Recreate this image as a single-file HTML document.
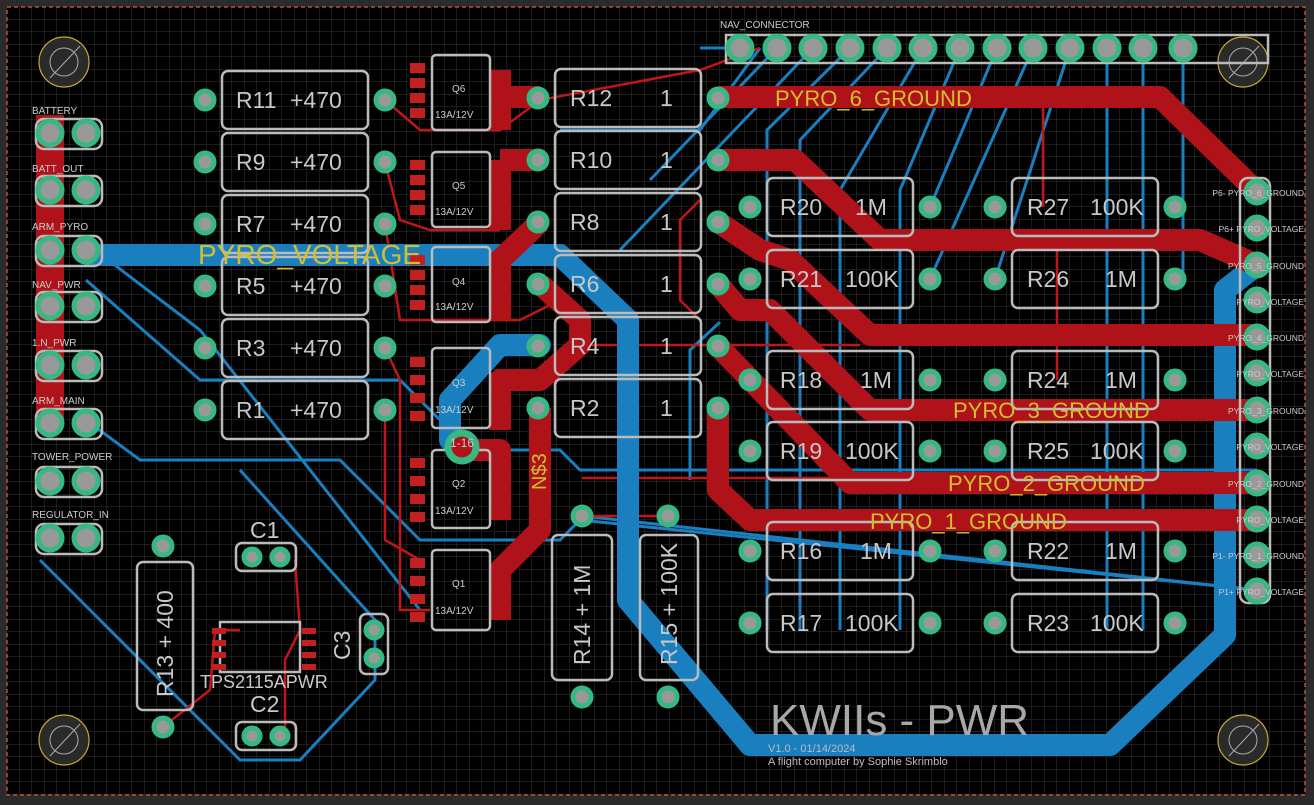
<!DOCTYPE html>
<html><head><meta charset="utf-8"><style>
html,body{margin:0;padding:0;background:#2b2b2b}
svg{display:block}
text{font-family:"Liberation Sans",sans-serif}
</style></head><body>
<svg width="1314" height="805" viewBox="0 0 1314 805" xmlns="http://www.w3.org/2000/svg">
<defs>
<pattern id="g" width="12.5" height="12.5" patternUnits="userSpaceOnUse" x="7" y="7">
<path d="M12.5 0V12.5H0" fill="none" stroke="#363636" stroke-width="1"/>
</pattern>
</defs>
<rect width="1314" height="805" fill="#2b2b2b"/>
<rect x="7" y="7" width="1298" height="788" fill="#000"/>
<rect x="7" y="7" width="1298" height="788" fill="url(#g)"/>
<rect x="7" y="7" width="1298" height="788" fill="none" stroke="#c0502a" stroke-width="1.5" stroke-dasharray="4 3"/>

<g fill="#2a2a2a" stroke="#c8a830" stroke-width="1.2">
<circle cx="64" cy="62" r="25"/><circle cx="1243" cy="62" r="25"/>
<circle cx="64" cy="740" r="25"/><circle cx="1243" cy="740" r="25"/>
</g>
<g fill="none" stroke="#aaa" stroke-width="1">
<circle cx="64" cy="62" r="14"/><path d="M50 78L80 46"/>
<circle cx="1243" cy="62" r="14"/><path d="M1229 78L1259 46"/>
<circle cx="64" cy="740" r="14"/><path d="M50 756L80 724"/>
<circle cx="1243" cy="740" r="14"/><path d="M1229 756L1259 724"/>
</g>

<g fill="none" stroke="#1a7fbf" stroke-width="3">
<path d="M740 48L700 48M760 48L700 130L560 130"/>
<path d="M777 48L650 180"/><path d="M813 48L620 250"/>
<path d="M850 48L767 130L767 630"/><path d="M887 48L800 140L800 630"/>
<path d="M923 48L840 190L840 630"/><path d="M960 48L900 190L900 630"/>
<path d="M997 48L930 207"/><path d="M1033 48L930 279"/>
<path d="M1070 48L995 279"/><path d="M1107 48L1107 630"/><path d="M1143 48L1143 630"/><path d="M1183 48L1183 279"/>
<path d="M86 280L200 380L400 380L470 450L560 450L580 470L1257 470"/>
<path d="M86 420L140 460L340 460L420 540L560 540L580 520L1257 590"/>
<path d="M40 560L100 620L240 760L300 760L375 680L375 620L240 470"/>
<path d="M95 250L200 330L420 610"/>
<path d="M582 516L1257 590"/>
<path d="M720 322L690 350L690 480"/>
</g>
<g fill="none" stroke="#c0161a" stroke-width="2.5">
<path d="M385 100L420 130L500 130L540 100L700 70L760 48"/>
<path d="M385 162L400 220L430 230L500 230"/>
<path d="M385 224L400 320L520 320L560 300"/>
<path d="M385 348L400 380L400 610L430 610"/>
<path d="M385 410L385 540L420 560"/>
<path d="M582 345L860 345"/><path d="M582 478L860 478"/><path d="M582 516L668 516"/>
<path d="M1043 90L1043 207"/><path d="M1057 240L1057 380"/>
<path d="M163 727L210 690L215 630L240 630"/>
<path d="M295 560L300 630L285 660L285 735"/>
<path d="M700 200L680 220L680 300L700 320"/>
</g>

<g fill="none" stroke="#1a7fbf" stroke-width="22" stroke-linejoin="round" stroke-linecap="round">
<path d="M90 255L560 255L628 320L628 600L750 745L1110 745L1225 635L1225 290L1257 265"/>
<path d="M450 440L450 400L500 345L540 345"/>
</g>
<g fill="none" stroke="#b0121a" stroke-width="22" stroke-linejoin="round">
<path d="M50 115L50 420" stroke-width="28"/>
<path d="M718 97L1160 97L1257 192"/>
<path d="M718 160L795 160L880 240L1200 240L1257 265"/>
<path d="M718 222L760 250L790 260L870 335L1257 335"/>
<path d="M718 284L740 310L770 310L870 410L1257 410"/>
<path d="M718 346L850 483L1257 483"/>
<path d="M718 408L718 490L750 520L1257 520"/>
<path d="M500 70L500 130M540 97L500 97"/>
<path d="M500 160L540 160M500 160L500 230"/>
<path d="M540 222L500 260L500 320"/>
<path d="M540 284L580 320L580 345L540 380L500 380L500 430"/>
<path d="M540 408L540 530L500 570L500 620"/>
<path d="M462 450L500 450L500 520"/>
</g>

<g fill="none" stroke="#bbb" stroke-width="2.5">
<rect x="222" y="71" width="146" height="58" rx="6"/><rect x="222" y="133" width="146" height="58" rx="6"/>
<rect x="222" y="195" width="146" height="58" rx="6"/><rect x="222" y="257" width="146" height="58" rx="6"/>
<rect x="222" y="319" width="146" height="58" rx="6"/><rect x="222" y="381" width="146" height="58" rx="6"/>
<rect x="555" y="69" width="146" height="58" rx="6"/><rect x="555" y="131" width="146" height="58" rx="6"/>
<rect x="555" y="193" width="146" height="58" rx="6"/><rect x="555" y="255" width="146" height="58" rx="6"/>
<rect x="555" y="317" width="146" height="58" rx="6"/><rect x="555" y="379" width="146" height="58" rx="6"/>
<rect x="767" y="178" width="146" height="58" rx="6"/><rect x="1012" y="178" width="146" height="58" rx="6"/>
<rect x="767" y="250" width="146" height="58" rx="6"/><rect x="1012" y="250" width="146" height="58" rx="6"/>
<rect x="767" y="351" width="146" height="58" rx="6"/><rect x="1012" y="351" width="146" height="58" rx="6"/>
<rect x="767" y="422" width="146" height="58" rx="6"/><rect x="1012" y="422" width="146" height="58" rx="6"/>
<rect x="767" y="522" width="146" height="58" rx="6"/><rect x="1012" y="522" width="146" height="58" rx="6"/>
<rect x="767" y="594" width="146" height="58" rx="6"/><rect x="1012" y="594" width="146" height="58" rx="6"/>
<rect x="552" y="535" width="60" height="145" rx="6"/><rect x="640" y="535" width="58" height="145" rx="6"/>
<rect x="137" y="562" width="56" height="148" rx="6"/>
<rect x="432" y="55" width="58" height="75" rx="4"/><rect x="432" y="152" width="58" height="75" rx="4"/>
<rect x="432" y="247" width="58" height="75" rx="4"/><rect x="432" y="348" width="58" height="80" rx="4"/>
<rect x="432" y="450" width="58" height="78" rx="4"/><rect x="432" y="550" width="58" height="80" rx="4"/>
<rect x="236" y="543" width="60" height="28" rx="6"/><rect x="236" y="722" width="60" height="28" rx="6"/>
<rect x="360" y="614" width="28" height="60" rx="6"/>
<rect x="220" y="622" width="80" height="50"/>
<path d="M726 35L1268 35L1268 63L726 63Z"/>
<rect x="1240" y="178" width="30" height="425" rx="8"/>
<rect x="36" y="119" width="66" height="30" rx="8"/><rect x="36" y="176" width="66" height="30" rx="8"/>
<rect x="36" y="236" width="66" height="30" rx="8"/><rect x="36" y="292" width="66" height="30" rx="8"/>
<rect x="36" y="351" width="66" height="30" rx="8"/><rect x="36" y="409" width="66" height="30" rx="8"/>
<rect x="36" y="467" width="66" height="30" rx="8"/><rect x="36" y="524" width="66" height="30" rx="8"/>
</g>

<g fill="#c02020">
<rect x="410" y="63" width="15" height="10"/><rect x="410" y="78" width="15" height="10"/><rect x="410" y="93" width="15" height="10"/><rect x="410" y="108" width="15" height="10"/>
<rect x="410" y="160" width="15" height="10"/><rect x="410" y="175" width="15" height="10"/><rect x="410" y="190" width="15" height="10"/><rect x="410" y="205" width="15" height="10"/>
<rect x="410" y="255" width="15" height="10"/><rect x="410" y="270" width="15" height="10"/><rect x="410" y="285" width="15" height="10"/><rect x="410" y="300" width="15" height="10"/>
<rect x="410" y="357" width="15" height="10"/><rect x="410" y="375" width="15" height="10"/><rect x="410" y="393" width="15" height="10"/><rect x="410" y="411" width="15" height="10"/>
<rect x="410" y="458" width="15" height="10"/><rect x="410" y="476" width="15" height="10"/><rect x="410" y="494" width="15" height="10"/><rect x="410" y="512" width="15" height="10"/>
<rect x="410" y="558" width="15" height="10"/><rect x="410" y="576" width="15" height="10"/><rect x="410" y="594" width="15" height="10"/><rect x="410" y="612" width="15" height="10"/>
<rect x="212" y="628" width="14" height="6"/><rect x="212" y="640" width="14" height="6"/><rect x="212" y="652" width="14" height="6"/><rect x="212" y="664" width="14" height="6"/>
<rect x="302" y="628" width="14" height="6"/><rect x="302" y="640" width="14" height="6"/><rect x="302" y="652" width="14" height="6"/><rect x="302" y="664" width="14" height="6"/>
</g>

<g fill="#999" stroke="#35b881" stroke-width="5">
<circle cx="205" cy="100" r="9"/><circle cx="385" cy="100" r="9"/><circle cx="205" cy="162" r="9"/><circle cx="385" cy="162" r="9"/>
<circle cx="205" cy="224" r="9"/><circle cx="385" cy="224" r="9"/><circle cx="205" cy="286" r="9"/><circle cx="385" cy="286" r="9"/>
<circle cx="205" cy="348" r="9"/><circle cx="385" cy="348" r="9"/><circle cx="205" cy="410" r="9"/><circle cx="385" cy="410" r="9"/>
<circle cx="538" cy="98" r="9"/><circle cx="718" cy="98" r="9"/><circle cx="538" cy="160" r="9"/><circle cx="718" cy="160" r="9"/>
<circle cx="538" cy="222" r="9"/><circle cx="718" cy="222" r="9"/><circle cx="538" cy="284" r="9"/><circle cx="718" cy="284" r="9"/>
<circle cx="538" cy="346" r="9"/><circle cx="718" cy="346" r="9"/><circle cx="538" cy="408" r="9"/><circle cx="718" cy="408" r="9"/>
<circle cx="750" cy="207" r="9"/><circle cx="930" cy="207" r="9"/><circle cx="995" cy="207" r="9"/><circle cx="1175" cy="207" r="9"/>
<circle cx="750" cy="279" r="9"/><circle cx="930" cy="279" r="9"/><circle cx="995" cy="279" r="9"/><circle cx="1175" cy="279" r="9"/>
<circle cx="750" cy="380" r="9"/><circle cx="930" cy="380" r="9"/><circle cx="995" cy="380" r="9"/><circle cx="1175" cy="380" r="9"/>
<circle cx="750" cy="451" r="9"/><circle cx="930" cy="451" r="9"/><circle cx="995" cy="451" r="9"/><circle cx="1175" cy="451" r="9"/>
<circle cx="750" cy="551" r="9"/><circle cx="930" cy="551" r="9"/><circle cx="995" cy="551" r="9"/><circle cx="1175" cy="551" r="9"/>
<circle cx="750" cy="623" r="9"/><circle cx="930" cy="623" r="9"/><circle cx="995" cy="623" r="9"/><circle cx="1175" cy="623" r="9"/>
<circle cx="582" cy="516" r="9"/><circle cx="582" cy="697" r="9"/><circle cx="668" cy="516" r="9"/><circle cx="668" cy="697" r="9"/>
<circle cx="163" cy="546" r="9"/><circle cx="163" cy="727" r="9"/>
<circle cx="252" cy="557" r="8"/><circle cx="280" cy="557" r="8"/><circle cx="252" cy="736" r="8"/><circle cx="280" cy="736" r="8"/>
<circle cx="374" cy="630" r="8"/><circle cx="374" cy="658" r="8"/>
<circle cx="740" cy="48" r="12"/><circle cx="777" cy="48" r="12"/><circle cx="813" cy="48" r="12"/><circle cx="850" cy="48" r="12"/><circle cx="887" cy="48" r="12"/><circle cx="923" cy="48" r="12"/><circle cx="960" cy="48" r="12"/><circle cx="997" cy="48" r="12"/><circle cx="1033" cy="48" r="12"/><circle cx="1070" cy="48" r="12"/><circle cx="1107" cy="48" r="12"/><circle cx="1143" cy="48" r="12"/><circle cx="1183" cy="48" r="12"/>
<circle cx="1257" cy="192" r="11"/><circle cx="1257" cy="228" r="11"/><circle cx="1257" cy="265" r="11"/><circle cx="1257" cy="300" r="11"/><circle cx="1257" cy="337" r="11"/><circle cx="1257" cy="373" r="11"/><circle cx="1257" cy="410" r="11"/><circle cx="1257" cy="446" r="11"/><circle cx="1257" cy="483" r="11"/><circle cx="1257" cy="519" r="11"/><circle cx="1257" cy="555" r="11"/><circle cx="1257" cy="591" r="11"/>
<circle cx="50" cy="133" r="12"/><circle cx="86" cy="133" r="12"/><circle cx="50" cy="190" r="12"/><circle cx="86" cy="190" r="12"/>
<circle cx="50" cy="250" r="12"/><circle cx="86" cy="250" r="12"/><circle cx="50" cy="306" r="12"/><circle cx="86" cy="306" r="12"/>
<circle cx="50" cy="365" r="12"/><circle cx="86" cy="365" r="12"/><circle cx="50" cy="423" r="12"/><circle cx="86" cy="423" r="12"/>
<circle cx="50" cy="481" r="12"/><circle cx="86" cy="481" r="12"/><circle cx="50" cy="538" r="12"/><circle cx="86" cy="538" r="12"/>
<circle cx="462" cy="447" r="14" fill="#b0121a" stroke-width="7"/>
</g>

<g fill="#c8c8c8" font-size="23">
<text x="236" y="108">R11</text><text x="290" y="108">+470</text>
<text x="236" y="170">R9</text><text x="290" y="170">+470</text>
<text x="236" y="232">R7</text><text x="290" y="232">+470</text>
<text x="236" y="294">R5</text><text x="290" y="294">+470</text>
<text x="236" y="356">R3</text><text x="290" y="356">+470</text>
<text x="236" y="418">R1</text><text x="290" y="418">+470</text>
<text x="570" y="106">R12</text><text x="660" y="106">1</text>
<text x="570" y="168">R10</text><text x="660" y="168">1</text>
<text x="570" y="230">R8</text><text x="660" y="230">1</text>
<text x="570" y="292">R6</text><text x="660" y="292">1</text>
<text x="570" y="354">R4</text><text x="660" y="354">1</text>
<text x="570" y="416">R2</text><text x="660" y="416">1</text>
<text x="780" y="215">R20</text><text x="855" y="215">1M</text><text x="1027" y="215">R27</text><text x="1090" y="215">100K</text>
<text x="780" y="287">R21</text><text x="845" y="287">100K</text><text x="1027" y="287">R26</text><text x="1105" y="287">1M</text>
<text x="780" y="388">R18</text><text x="860" y="388">1M</text><text x="1027" y="388">R24</text><text x="1105" y="388">1M</text>
<text x="780" y="459">R19</text><text x="845" y="459">100K</text><text x="1027" y="459">R25</text><text x="1090" y="459">100K</text>
<text x="780" y="559">R16</text><text x="860" y="559">1M</text><text x="1027" y="559">R22</text><text x="1105" y="559">1M</text>
<text x="780" y="631">R17</text><text x="845" y="631">100K</text><text x="1027" y="631">R23</text><text x="1090" y="631">100K</text>
<text transform="translate(590,665) rotate(-90)">R14 + 1M</text>
<text transform="translate(677,665) rotate(-90)">R15 + 100K</text>
<text transform="translate(173,697) rotate(-90)">R13 + 400</text>
<text x="250" y="538">C1</text><text x="250" y="712">C2</text>
<text transform="translate(350,660) rotate(-90)">C3</text>
<text x="200" y="688" font-size="18">TPS2115APWR</text>
<text x="770" y="735" font-size="44" fill="#a8a8a8">KWIIs - PWR</text>
<text x="768" y="752" font-size="11" fill="#bbb">V1.0 - 01/14/2024</text>
<text x="768" y="765" font-size="11" fill="#bbb">A flight computer by Sophie Skrimblo</text>
</g>
<g fill="#d0c030" font-size="22">
<text x="198" y="264" font-size="28">PYRO_VOLTAGE</text>
<text x="775" y="106">PYRO_6_GROUND</text>
<text x="953" y="418">PYRO_3_GROUND</text>
<text x="948" y="491">PYRO_2_GROUND</text>
<text x="870" y="529">PYRO_1_GROUND</text>
<text transform="translate(546,490) rotate(-90)" font-size="20">N$3</text>
</g>
<g fill="#ccc" font-size="10" font-family="Liberation Mono">
<text x="32" y="114">BATTERY</text><text x="32" y="172">BATT_OUT</text><text x="32" y="230">ARM_PYRO</text>
<text x="32" y="288">NAV_PWR</text><text x="32" y="346">1.N_PWR</text><text x="32" y="404">ARM_MAIN</text>
<text x="32" y="460">TOWER_POWER</text><text x="32" y="518">REGULATOR_IN</text>
<text x="720" y="28">NAV_CONNECTOR</text>
<text x="452" y="92">Q6</text><text x="435" y="118">13A/12V</text>
<text x="452" y="189">Q5</text><text x="435" y="215">13A/12V</text>
<text x="452" y="285">Q4</text><text x="435" y="310">13A/12V</text>
<text x="452" y="386">Q3</text><text x="435" y="413">13A/12V</text>
<text x="452" y="487">Q2</text><text x="435" y="514">13A/12V</text>
<text x="452" y="587">Q1</text><text x="435" y="614">13A/12V</text>
<text x="450" y="447" font-size="12">1-16</text>
</g>
<g fill="#ccc" font-size="8.5" font-family="Liberation Sans" text-anchor="end">
<text x="1304" y="196">P6- PYRO_6_GROUND</text><text x="1304" y="232">P6+ PYRO_VOLTAGE</text>
<text x="1304" y="269">PYRO_5_GROUND</text><text x="1304" y="305">PYRO_VOLTAGE</text>
<text x="1304" y="341">PYRO_4_GROUND</text><text x="1304" y="377">PYRO_VOLTAGE</text>
<text x="1304" y="414">PYRO_3_GROUND</text><text x="1304" y="450">PYRO_VOLTAGE</text>
<text x="1304" y="487">PYRO_2_GROUND</text><text x="1304" y="523">PYRO_VOLTAGE</text>
<text x="1304" y="559">P1- PYRO_1_GROUND</text><text x="1304" y="595">P1+ PYRO_VOLTAGE</text>
</g>
</svg>
</body></html>
